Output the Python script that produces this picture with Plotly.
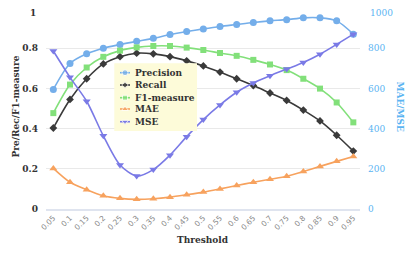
import plotly.graph_objects as go

thresholds = ["0.05","0.1","0.15","0.2","0.25","0.3","0.35","0.4","0.45","0.5",
              "0.55","0.6","0.65","0.7","0.75","0.8","0.85","0.9","0.95"]
precision = [0.595,0.724,0.772,0.800,0.818,0.834,0.849,0.868,0.883,0.896,
             0.908,0.918,0.928,0.936,0.942,0.951,0.951,0.936,0.870]
recall = [0.403,0.545,0.648,0.722,0.758,0.775,0.772,0.758,0.737,0.712,
          0.681,0.648,0.614,0.577,0.540,0.492,0.438,0.367,0.288]
f1 = [0.477,0.619,0.704,0.757,0.788,0.804,0.811,0.811,0.803,0.791,
      0.776,0.762,0.742,0.719,0.691,0.648,0.599,0.530,0.431]
mae = [202,133,96,66,53,48,51,59,71,84,100,117,133,148,163,187,212,237,261]
mse = [786,655,536,364,219,164,196,268,360,445,518,581,627,663,696,729,770,819,870]

left_ticks = [0, 0.2, 0.4, 0.6, 0.8, 1]
left_labels = ["0", "0.2", "0.4", "0.6", "0.8", "1"]
right_ticks = [0, 200, 400, 600, 800, 1000]
right_labels = ["0", "200", "400", "600", "800", "1000"]

series_names = ["Precision", "Recall", "F1-measure", "MAE", "MSE"]
colors = ["#74aeea", "#3a3a3a", "#82e07a", "#f7a25e", "#7a7ae6"]
symbols = ["circle", "diamond", "square", "triangle-up", "triangle-down"]
sizes = [7, 6, 6, 7, 7]

SERIF = "DejaVu Serif"
BLUE = "#5ab4f2"
fig = go.Figure()

data = [(precision, "y"), (recall, "y"), (f1, "y"), (mae, "y2"), (mse, "y2")]
for (vals, ax), name, c, s, sz in zip(data, series_names, colors, symbols, sizes):
    fig.add_trace(go.Scatter(
        x=thresholds, y=vals, name=name, yaxis=ax, mode="lines+markers",
        line=dict(color=c, width=1.6, shape="spline", smoothing=0.8),
        marker=dict(symbol=s, size=sz, color=c), showlegend=False,
    ))

# custom legend (plot-area fractions)
box_x = [0.2175, 0.481, 0.481, 0.2175, 0.2175]
box_y = [0.7249, 0.7249, 0.3881, 0.3881, 0.7249]
fig.add_trace(go.Scatter(x=box_x, y=box_y, xaxis="x3", yaxis="y3", mode="lines",
                         fill="toself", fillcolor="#fdfbd9", line=dict(width=0),
                         hoverinfo="skip", showlegend=False))
row_y = [0.6781, 0.6169, 0.5537, 0.4975, 0.4343]
for ry, name, c, s, sz in zip(row_y, series_names, colors, symbols, sizes):
    fig.add_trace(go.Scatter(x=[0.2357, 0.2516, 0.2675], y=[ry, ry, ry],
                             xaxis="x3", yaxis="y3", mode="lines+markers",
                             line=dict(color=c, width=1.6),
                             marker=dict(symbol=s, size=[0, sz - 1, 0], color=c),
                             hoverinfo="skip", showlegend=False))
    fig.add_annotation(x=0.278, y=ry, xref="x domain", yref="y domain",
                       text=name, showarrow=False, xanchor="left", yanchor="middle",
                       font=dict(family=SERIF, size=9, color="#333", weight="bold"))

# axis titles (paper = plot area fractions)
fig.add_annotation(x=-0.0971, y=0.5075, xref="paper", yref="paper",
                   xanchor="center", yanchor="middle",
                   text="Pre/Rec/F1-measure", textangle=-90, showarrow=False,
                   font=dict(family=SERIF, size=9, color="#333", weight="bold"))
fig.add_annotation(x=1.129, y=0.5075, xref="paper", yref="paper",
                   xanchor="center", yanchor="middle",
                   text="MAE/MSE", textangle=90, showarrow=False,
                   font=dict(family=SERIF, size=9, color=BLUE, weight="bold"))
fig.add_annotation(x=0.5, y=-0.1567, xref="paper", yref="paper",
                   xanchor="center", yanchor="middle",
                   text="Threshold", showarrow=False,
                   font=dict(family=SERIF, size=9, color="#333", weight="bold"))

# top tick labels sit at the top edge of the page; drawn just inside it
fig.add_annotation(x=0, y=left_ticks[-1], xref="paper", yref="y",
                   xanchor="right", yanchor="top", xshift=-8, yshift=2,
                   text=left_labels[-1], showarrow=False,
                   font=dict(family=SERIF, size=9, color="#333", weight="bold"))
fig.add_annotation(x=1, y=right_ticks[-1], xref="paper", yref="y2",
                   xanchor="left", yanchor="top", xshift=8, yshift=2,
                   text=right_labels[-1], showarrow=False,
                   font=dict(family=SERIF, size=9, color=BLUE))

# page body has an 8px default margin; figure size compensates
fig.update_layout(
    width=407, height=248,
    margin=dict(l=38, r=55, t=0, b=47, autoexpand=False),
    paper_bgcolor="white", plot_bgcolor="white",
    showlegend=False,
    xaxis=dict(
        type="category", range=[-0.44, 18.4],
        showgrid=False, showline=True, linecolor="#dfe4ef",
        linewidth=1.5, ticks="", tickangle=-45, automargin=False,
        tickfont=dict(family="DejaVu Sans", size=7.5, color="#888"),
        zeroline=False,
    ),
    yaxis=dict(
        range=[0, 1], tickvals=left_ticks,
        ticktext=left_labels[:-1] + [""], automargin=False,
        showgrid=True, gridcolor="#e9e9e9", zeroline=False, showline=False,
        ticklabelstandoff=7,
        tickfont=dict(family=SERIF, size=9, color="#333", weight="bold"),
    ),
    yaxis2=dict(
        overlaying="y", side="right", range=[0, 1000], automargin=False,
        tickvals=right_ticks, ticktext=right_labels[:-1] + [""],
        ticklabelstandoff=7,
        showgrid=False, zeroline=False, showline=False,
        tickfont=dict(family=SERIF, size=9, color=BLUE),
    ),
    xaxis3=dict(overlaying="x", range=[0, 1], visible=False, fixedrange=True),
    yaxis3=dict(overlaying="y", range=[0, 1], visible=False, fixedrange=True),
)

fig.write_html("out.html")
